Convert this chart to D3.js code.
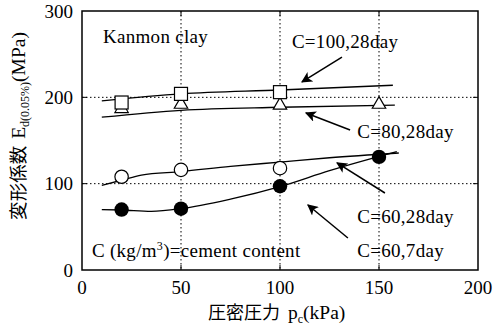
<!DOCTYPE html>
<html lang="ja">
  <head>
    <meta charset="UTF-8" />
    <title>変形係数と圧密圧力</title>
    <script src="https://d3js.org/d3.v7.min.js"></script>
    <style>
      body {
        margin: 0;
        background-color: #fff;
      }
      svg {
        display: block;
        font-family: "Liberation Serif", "DejaVu Serif", serif;
      }
      .tick-label {
        font-size: 19px;
        fill: #000;
      }
      .note {
        font-size: 19px;
        letter-spacing: 0.3px;
        fill: #000;
      }
      .grid {
        stroke: #000;
        stroke-width: 1;
        stroke-dasharray: 1.5, 2.5;
        fill: none;
      }
      .fit {
        fill: none;
        stroke: #000;
        stroke-width: 1.3;
      }
    </style>
  </head>
  <body>
    <svg id="chart" width="494" height="328"></svg>

    <script>
      // Donnees
      const pressure = [20, 50, 100, 150];
      const c100_28 = [194, 204, 206, null];
      const c80_28 = [188, 193, 192, 193];
      const c60_28 = [108, 116, 118, null];
      const c60_7 = [70, 71, 97, 131];

      // courbes d'ajustement (tracées à la main sur la figure)
      const fitX100 = [10, 50, 100, 157];
      const fitY100 = [196, 204, 208.5, 214];
      const fitX80 = [10, 50, 100, 158];
      const fitY80 = [177, 185, 188.5, 191];
      const fitX60_28 = [10, 20, 30, 50, 75, 100, 125, 160];
      const fitY60_28 = [98, 104, 110, 114, 120, 125, 130, 135.5];
      const fitX60_7 = [10, 20, 35, 50, 75, 100, 125, 159];
      const fitY60_7 = [70, 69.5, 68, 71, 82, 96.5, 115, 137];

      const xTicks = [0, 50, 100, 150, 200];
      const yTicks = [0, 100, 200, 300];
      const gridX = [50, 100, 150];
      const gridY = [100, 200];

      // annotations: texte + fleche [x0,y0] -> [x1,y1] en unites de donnees
      const labels = [
        { text: "C=100,28day", x: 106, y: 257, arrow: [[131.3, 246.7], [111.1, 217.8]] },
        { text: "C=80,28day", x: 139, y: 153, arrow: [[135.4, 162.2], [113.1, 181.9]] },
        { text: "C=60,28day", x: 139, y: 55, arrow: [[153, 89.2], [128.8, 124]] },
        { text: "C=60,7day", x: 139, y: 15.5, arrow: [[134.3, 37.1], [114.1, 75.3]] },
      ];

      const width = 494,
        height = 328;
      const margin = { top: 11, right: 16, bottom: 58, left: 82 };
      const iw = width - margin.left - margin.right;
      const ih = height - margin.top - margin.bottom;

      const x = d3.scaleLinear().domain([0, 200]).range([0, iw]);
      const y = d3.scaleLinear().domain([0, 300]).range([ih, 0]);

      const svg = d3.select("#chart");

      svg
        .append("defs")
        .append("marker")
        .attr("id", "head")
        .attr("viewBox", "0 0 10 10")
        .attr("refX", 9)
        .attr("refY", 5)
        .attr("markerWidth", 11)
        .attr("markerHeight", 11)
        .attr("markerUnits", "userSpaceOnUse")
        .attr("orient", "auto")
        .append("path")
        .attr("d", "M0,0 L10,5 L0,10 L2.5,5 Z")
        .attr("fill", "#000");

      const g = svg
        .append("g")
        .attr("transform", `translate(${margin.left},${margin.top})`);

      // grille pointillee
      g.selectAll(".gx")
        .data(gridX)
        .enter()
        .append("line")
        .attr("class", "grid")
        .attr("x1", (d) => x(d))
        .attr("x2", (d) => x(d))
        .attr("y1", 0)
        .attr("y2", ih);

      g.selectAll(".gy")
        .data(gridY)
        .enter()
        .append("line")
        .attr("class", "grid")
        .attr("x1", 0)
        .attr("x2", iw)
        .attr("y1", (d) => y(d))
        .attr("y2", (d) => y(d));

      // cadre + graduations interieures
      g.append("rect")
        .attr("width", iw)
        .attr("height", ih)
        .attr("fill", "none")
        .attr("stroke", "#000")
        .attr("stroke-width", 1.5);

      const tickLen = 5;
      xTicks.slice(1, -1).forEach((t) => {
        g.append("line").attr("x1", x(t)).attr("x2", x(t)).attr("y1", ih).attr("y2", ih - tickLen).attr("stroke", "#000");
        g.append("line").attr("x1", x(t)).attr("x2", x(t)).attr("y1", 0).attr("y2", tickLen).attr("stroke", "#000");
      });
      yTicks.slice(1, -1).forEach((t) => {
        g.append("line").attr("x1", 0).attr("x2", tickLen).attr("y1", y(t)).attr("y2", y(t)).attr("stroke", "#000");
        g.append("line").attr("x1", iw).attr("x2", iw - tickLen).attr("y1", y(t)).attr("y2", y(t)).attr("stroke", "#000");
      });

      g.selectAll(".xl")
        .data(xTicks)
        .enter()
        .append("text")
        .attr("class", "tick-label")
        .attr("x", (d) => x(d))
        .attr("y", ih + 23.5)
        .attr("text-anchor", "middle")
        .text((d) => d);

      g.selectAll(".yl")
        .data(yTicks)
        .enter()
        .append("text")
        .attr("class", "tick-label")
        .attr("x", -9)
        .attr("y", (d) => y(d) + 6.5)
        .attr("text-anchor", "end")
        .text((d) => d);

      // courbes
      const fits = [
        [fitX100, fitY100],
        [fitX80, fitY80],
        [fitX60_28, fitY60_28],
        [fitX60_7, fitY60_7],
      ];
      const line = d3
        .line()
        .x((d) => x(d[0]))
        .y((d) => y(d[1]))
        .curve(d3.curveMonotoneX);

      fits.forEach(([xs, ys]) => {
        g.append("path")
          .attr("class", "fit")
          .attr("d", line(xs.map((v, i) => [v, ys[i]])));
      });

      const pts = (vals) =>
        pressure.map((p, i) => ({ p, v: vals[i] })).filter((d) => d.v != null);

      // triangles (C=80) sous les carres
      const tri = d3.symbol().type(d3.symbolTriangle).size(78);
      g.selectAll(".tri")
        .data(pts(c80_28))
        .enter()
        .append("path")
        .attr("d", tri)
        .attr("transform", (d) => `translate(${x(d.p)},${y(d.v) + 1})`)
        .attr("fill", "#fff")
        .attr("stroke", "#000")
        .attr("stroke-width", 1.2);

      g.selectAll(".sq")
        .data(pts(c100_28))
        .enter()
        .append("rect")
        .attr("x", (d) => x(d.p) - 6.5)
        .attr("y", (d) => y(d.v) - 6.5)
        .attr("width", 13)
        .attr("height", 13)
        .attr("fill", "#fff")
        .attr("stroke", "#000")
        .attr("stroke-width", 1.2);

      g.selectAll(".oc")
        .data(pts(c60_28))
        .enter()
        .append("circle")
        .attr("cx", (d) => x(d.p))
        .attr("cy", (d) => y(d.v))
        .attr("r", 6.7)
        .attr("fill", "#fff")
        .attr("stroke", "#000")
        .attr("stroke-width", 1.2);

      g.selectAll(".fc")
        .data(pts(c60_7))
        .enter()
        .append("circle")
        .attr("cx", (d) => x(d.p))
        .attr("cy", (d) => y(d.v))
        .attr("r", 7.2)
        .attr("fill", "#000");

      // annotations
      labels.forEach((l) => {
        g.append("text").attr("class", "note").attr("x", x(l.x)).attr("y", y(l.y)).text(l.text);
        g.append("line")
          .attr("x1", x(l.arrow[0][0]))
          .attr("y1", y(l.arrow[0][1]))
          .attr("x2", x(l.arrow[1][0]))
          .attr("y2", y(l.arrow[1][1]))
          .attr("stroke", "#000")
          .attr("stroke-width", 1.5)
          .attr("marker-end", "url(#head)");
      });

      g.append("text").attr("class", "note").attr("x", x(10.6)).attr("y", y(263)).text("Kanmon clay");

      const legend = g.append("text").attr("class", "note").attr("x", x(5)).attr("y", y(15.5));
      legend.append("tspan").text("C (kg/m");
      legend.append("tspan").attr("dy", -7).attr("font-size", "12px").text("3");
      legend.append("tspan").attr("dy", 7).text(")=cement content");

      // titres des axes
      const xt = svg
        .append("text")
        .attr("x", 208)
        .attr("y", 319)
        .attr("font-size", "19.5px");
      xt.append("tspan").attr("font-family", "'Noto Sans CJK JP'").attr("font-size", "18px").text("圧密圧力");
      xt.append("tspan").attr("dx", 8).text("p");
      xt.append("tspan").attr("font-size", "12px").attr("dy", 4).text("c");
      xt.append("tspan").attr("dy", -4).text("(kPa)");

      const yt = svg
        .append("text")
        .attr("transform", "translate(25,126) rotate(-90)")
        .attr("text-anchor", "middle")
        .attr("font-size", "19.5px");
      yt.append("tspan").attr("font-family", "'Noto Sans CJK JP'").attr("font-size", "18.5px").text("変形係数");
      yt.append("tspan").attr("dx", 7).text("E");
      yt.append("tspan").attr("font-size", "12px").attr("dy", 4).text("d(0.05%)");
      yt.append("tspan").attr("dy", -4).text("(MPa)");
    </script>
  </body>
</html>
